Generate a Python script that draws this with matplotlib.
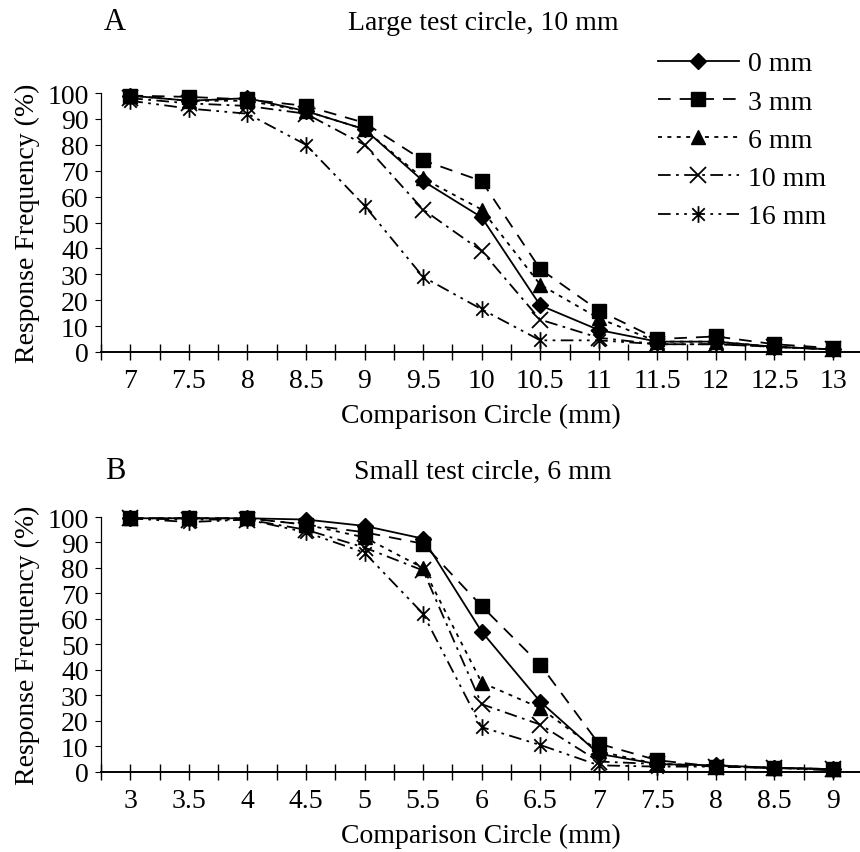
import numpy as np
import matplotlib
matplotlib.use("Agg")
import matplotlib.pyplot as plt
from matplotlib.path import Path
from matplotlib.ticker import MultipleLocator

# Panel A: large test circle, 10 mm
xa = [7, 7.5, 8, 8.5, 9, 9.5, 10, 10.5, 11, 11.5, 12, 12.5, 13]
a_0mm = [99, 97, 98, 93, 86, 66, 52, 18, 8.5, 4, 4, 2, 1]
a_3mm = [99, 98.5, 97.5, 95, 88.5, 74, 66, 32, 16, 5, 6, 3, 1.5]
a_6mm = [99, 97, 97, 93, 86, 67, 55, 26, 13, 4, 4, 2, 1]
a_10mm = [98, 96, 95, 92, 80, 55, 39, 12.5, 5.5, 3, 3, 2, 1]
a_16mm = [97, 94, 92, 80, 56.5, 29, 16.5, 4.5, 4.5, 3, 3, 2, 1]

# Panel B: small test circle, 6 mm
xb = [3, 3.5, 4, 4.5, 5, 5.5, 6, 6.5, 7, 7.5, 8, 8.5, 9]
b_0mm = [99.5, 99.5, 99.5, 99, 96.5, 91.5, 55, 27.5, 7, 3, 2.5, 1.5, 1]
b_3mm = [99.5, 99.5, 99.5, 97, 94, 89.5, 65, 42, 11, 4.5, 2, 1.5, 1]
b_6mm = [99.5, 99.5, 99.5, 97, 92, 80, 35, 25, 8, 3, 2.5, 1.5, 1]
b_10mm = [99.5, 99, 99, 95, 88, 79, 26.5, 18.5, 4, 3, 2, 1.5, 1]
b_16mm = [99.5, 98, 99, 94, 86, 62, 17.5, 10.5, 2.5, 2, 2, 1.5, 0.5]

labels = ["0 mm", "3 mm", "6 mm", "10 mm", "16 mm"]

plt.rcParams["font.family"] = ["Liberation Serif", "DejaVu Serif"]
FS = 20

# asterisk marker: X plus vertical bar
star = Path([(0, -1), (0, 1), (-0.75, -0.75), (0.75, 0.75), (-0.75, 0.75), (0.75, -0.75)],
            [Path.MOVETO, Path.LINETO, Path.MOVETO, Path.LINETO, Path.MOVETO, Path.LINETO])

styles = [
    dict(ls="-", marker="D", ms=8),
    dict(ls=(0, (7, 5)), marker="s", ms=10),
    dict(ls=(0, (2.2, 3)), marker="^", ms=10),
    dict(ls=(0, (7, 3, 1.5, 3)), marker="x", ms=11, mew=1.3),
    dict(ls=(0, (7, 3, 1.5, 3, 1.5, 3)), marker=star, ms=12, mew=1.3),
]

fig = plt.figure(figsize=(8.6, 8.53), dpi=100)
axA = fig.add_axes([101/860, 1-353/853, 759/860, 259/853])
axB = fig.add_axes([101/860, 1-772.7/853, 759/860, 254.7/853])


def draw(ax, x, series, lo, hi):
    lines = []
    for y, lab, st in zip(series, labels, styles):
        ln, = ax.plot(x, y, color="black", lw=1.3, mfc="black", mec="black",
                      label=lab, **st)
        lines.append(ln)
    ax.set_xlim(lo - 0.25, hi + 0.23)
    ax.set_ylim(0, 100)
    ax.set_yticks(np.arange(0, 101, 10))
    ax.set_xticks(x)
    ax.set_xticklabels([f"{v:g}" for v in x])
    ax.xaxis.set_minor_locator(MultipleLocator(0.25))
    ax.tick_params(axis="x", which="both", direction="inout", length=11, width=1,
                   labelsize=FS, pad=6)
    ax.tick_params(axis="y", direction="out", length=4, width=0.8,
                   labelsize=FS, pad=5)
    for s in ("top", "right"):
        ax.spines[s].set_visible(False)
    ax.spines["left"].set_linewidth(0.9)
    ax.spines["bottom"].set_linewidth(1.4)
    ax.set_xlabel("Comparison Circle (mm)", fontsize=FS, labelpad=7)
    ax.set_ylabel("Response Frequency (%)", fontsize=FS, labelpad=5)
    ax.spines["bottom"].set_clip_on(False)
    for ln in lines:
        ln.set_clip_on(False)
    return lines


linesA = draw(axA, xa, [a_0mm, a_3mm, a_6mm, a_10mm, a_16mm], 7, 13)
draw(axB, xb, [b_0mm, b_3mm, b_6mm, b_10mm, b_16mm], 3, 9)

fig.text(115/860, 1-23/853, "A", fontsize=22, ha="center", va="center")
fig.text(483/860, 1-23/853, "Large test circle, 10 mm", fontsize=FS, ha="center", va="center")
fig.text(115/860, 1-472/853, "B", fontsize=22, ha="center", va="center")
fig.text(483/860, 1-472/853, "Small test circle, 6 mm", fontsize=FS, ha="center", va="center")

fig.legend(handles=linesA, loc="upper left", bbox_to_anchor=(658/860, 1-52/853),
           frameon=False, fontsize=FS, handlelength=2.9, handletextpad=0.35,
           labelspacing=0.46, borderpad=0, borderaxespad=0, numpoints=1)

fig.savefig("out.png", dpi=100)
